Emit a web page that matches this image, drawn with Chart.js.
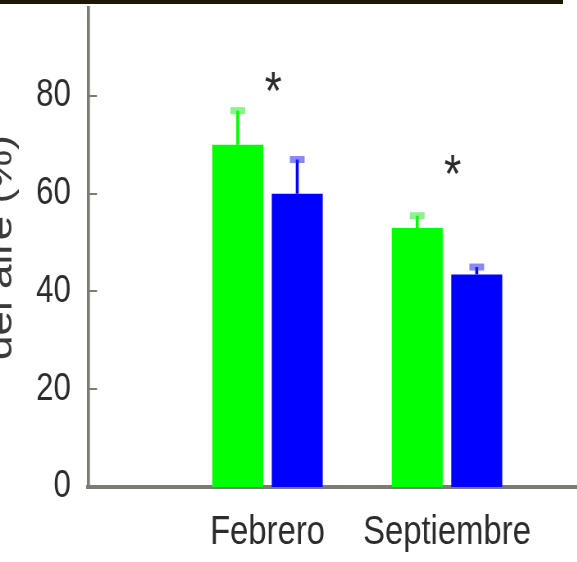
<!DOCTYPE html>
<html>
<head>
<meta charset="utf-8">
<script src="https://cdn.jsdelivr.net/npm/chart.js@4.4.1/dist/chart.umd.min.js"></script>
<style>
  html, body { margin: 0; padding: 0; background: #fff; overflow: hidden; width: 577px; height: 562px; }
  #band { position: absolute; left: 0; top: 0; width: 563px; height: 4px; background: #1c1604; z-index: 2; }
  /* the figure is set in a horizontally condensed proportion */
  #wrap { position: absolute; left: 0; top: 0; width: 780px; height: 562px; transform: scaleX(0.82); transform-origin: 0 0; }
</style>
</head>
<body>
<div id="band"></div>
<div id="wrap"><canvas id="c" width="780" height="562"></canvas></div>
<script>
// Monthly means with their error (upper bar) for the two groups
const categories = ['Febrero', 'Septiembre'];
const greenMeans = [70, 53];
const greenErrors = [7, 2.5];
const blueMeans = [60, 43.5];
const blueErrors = [7, 1.5];
const significance = ['*', '*'];
const yTicks = [0, 20, 40, 60, 80];

const sans = "'Liberation Sans', Arial, sans-serif";
const axisGrey = '#7b7b73';
const textColor = '#2b2b2b';

// empty slot on each side so the months sit one step in from the axis
const labels = ['', ...categories, ''];
const pad = arr => [null, ...arr, null];

const errorBars = {
  id: 'errorBars',
  afterDatasetsDraw(chart) {
    const { ctx } = chart;
    const y = chart.scales.y;
    chart.data.datasets.forEach((ds, i) => {
      const meta = chart.getDatasetMeta(i);
      meta.data.forEach((bar, j) => {
        const v = ds.data[j];
        const e = ds.errors[j];
        if (v == null || e == null) return;
        const top = y.getPixelForValue(v + e);
        ctx.save();
        ctx.strokeStyle = ds.backgroundColor;
        ctx.lineWidth = 3.6;
        ctx.beginPath();
        ctx.moveTo(bar.x, bar.y);
        ctx.lineTo(bar.x, top);
        ctx.stroke();
        ctx.fillStyle = ds.capColor;
        ctx.fillRect(bar.x - 9, top - 3.5, 18, 7);
        ctx.restore();
      });
    });
  }
};

const marks = {
  id: 'marks',
  afterDatasetsDraw(chart, args, opts) {
    const { ctx } = chart;
    const y = chart.scales.y;
    const a = chart.getDatasetMeta(0).data;
    const b = chart.getDatasetMeta(1).data;
    significance.forEach((s, k) => {
      const j = k + 1;
      const cx = (a[j].x + b[j].x) / 2 + opts.shift;
      const cy = y.getPixelForValue(opts.levels[k]);
      ctx.save();
      ctx.font = opts.size + 'px ' + sans;
      ctx.fillStyle = textColor;
      ctx.textAlign = 'center';
      ctx.textBaseline = 'alphabetic';
      const m = ctx.measureText(s);
      const mid = (m.actualBoundingBoxAscent - m.actualBoundingBoxDescent) / 2;
      ctx.fillText(s, cx, cy + mid);
      ctx.restore();
    });
  }
};

const innerTicks = {
  id: 'innerTicks',
  afterDraw(chart) {
    const { ctx, chartArea } = chart;
    const y = chart.scales.y;
    ctx.save();
    ctx.strokeStyle = axisGrey;
    ctx.lineWidth = 2;
    yTicks.forEach(v => {
      if (v === 0) return;
      const py = Math.round(y.getPixelForValue(v));
      ctx.beginPath();
      ctx.moveTo(chartArea.left, py);
      ctx.lineTo(chartArea.left + 11, py);
      ctx.stroke();
    });
    ctx.restore();
  }
};

new Chart(document.getElementById('c'), {
  type: 'bar',
  data: {
    labels: labels,
    datasets: [
      { data: pad(greenMeans), errors: pad(greenErrors), backgroundColor: '#00ff00', capColor: 'rgba(40,235,40,0.55)', borderWidth: 0 },
      { data: pad(blueMeans), errors: pad(blueErrors), backgroundColor: '#0000ff', capColor: 'rgba(40,40,235,0.55)', borderWidth: 0 }
    ]
  },
  options: {
    responsive: false,
    animation: false,
    devicePixelRatio: 1,
    categoryPercentage: 0.663,
    barPercentage: 0.857,
    layout: { padding: { left: 0, right: 16, top: 8, bottom: 0 } },
    plugins: {
      legend: { display: false },
      tooltip: { enabled: false },
      marks: { levels: [83, 66], shift: 7, size: 54 }
    },
    scales: {
      x: {
        type: 'category',
        offset: false,
        z: 1,
        grid: { display: false, drawTicks: false },
        border: { display: true, color: axisGrey, width: 4 },
        ticks: {
          autoSkip: false, maxRotation: 0, minRotation: 0,
          padding: 22,
          color: textColor,
          font: { family: sans, size: 40 }
        },
        afterFit(s) { s.height = 75; s.paddingLeft = 0; s.paddingRight = 0; }
      },
      y: {
        min: 0,
        max: 98,
        grid: { display: false, drawTicks: false },
        border: { display: true, color: axisGrey, width: 3.6 },
        ticks: {
          stepSize: 20,
          includeBounds: false,
          padding: 21,
          color: textColor,
          font: { family: sans, size: 38 }
        },
        afterBuildTicks(s) { s.ticks = yTicks.map(v => ({ value: v })); },
        title: {
          display: true,
          text: 'del aire (%)',
          color: '#3a3a3a',
          font: { family: sans, size: 44, lineHeight: 1 },
          padding: { top: -20.5, bottom: 0 }
        },
        afterFit(s) { s.width = 107.3; s.paddingTop = 0; s.paddingBottom = 0; }
      }
    }
  },
  plugins: [errorBars, marks, innerTicks]
});
</script>
</body>
</html>
